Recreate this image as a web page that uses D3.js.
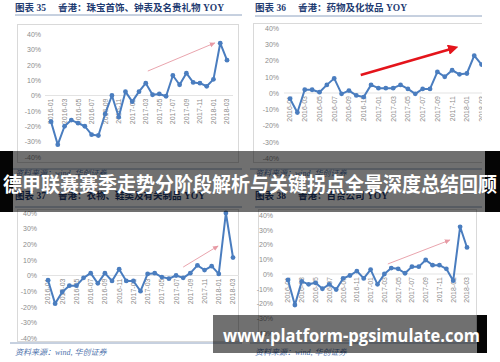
<!DOCTYPE html>
<html>
<head>
<meta charset="utf-8">
<script src="https://cdn.jsdelivr.net/npm/d3@7"></script>
<style>
  body { margin: 0; background: #fff; }
  svg { display: block; }
</style>
</head>
<body>
<div id="chart"></div>
<script>
////////////////////////////////////////////////////////////////////
/////  data                             /////
////////////////////////////////////////////////////////////////////

var months = ['2016-01','2016-02','2016-03','2016-04','2016-05','2016-06','2016-07','2016-08','2016-09',
              '2016-10','2016-11','2016-12','2017-01','2017-02','2017-03','2017-04','2017-05','2017-06',
              '2017-07','2017-08','2017-09','2017-10','2017-11','2017-12','2018-01','2018-02','2018-03']

var tickMonths = ['2016-01','2016-03','2016-05','2016-07','2016-09','2016-11','2017-01',
                  '2017-03','2017-05','2017-07','2017-09','2017-11','2018-01','2018-03']

var yTicks = [40, 30, 20, 10, 0, -10, -20, -30, -40]

// 图表35 珠宝首饰、钟表及名贵礼物
var jewelryYoy = [-17, -32, -20, -16, -18, -20, -25.5, -26, -12, 0, -14, 2.5, -4, 2.5, 8, 0.5, 1, -0.5,
                  13, 7, 14.5, 8.5, 8, 6, 10.5, 34, 23]
// 图表36 药物及化妆品
var pharmaYoy = [-3.5, -12, 2, 2, 0.5, 5, 9, -0.5, 1.5, -1.5, -2.5, 5, 3, 3, 3, 5, 2.5, -0.5,
                 2.5, 2.5, 13, 10, 14, 11.5, 12, 23, 17.5]
// 图表37 衣物、鞋类及有关制品
var clothingYoy = [-3, -18, -10.5, -6.5, -6.5, -1.5, 1.5, -5, 1.5, -3.5, 4, -3.5, -3.5, -10, 1, 1.5, -1, -2,
                   0, -1.5, 1.5, 6.5, 3.5, 6, 1, 40, 11.5]
// 图表38 百货公司
var deptStoreYoy = [-4, -21, -5, -7, -6, -10, -7, -10.5, -3, -1, 2, -3, 3, -7, 0, 4, 3.5, 0.5,
                    5, 5, 9.5, 6, 6, 3.5, -4.5, 32, 18]

// trend arrows: [month index, yoy %] start -> end
var jewelryArrow  = [[14.3, 15.9], [24.2, 34.2]]
var pharmaArrow   = [[9.6, 11.1], [22.3, 27.7]]
var clothingArrow = [[19.0, 5.4], [23.9, 18.9]]
var deptArrow     = [[14.5, 6.8], [23.5, 23]]

var chartNums   = ['图表 35', '图表 36', '图表 37', '图表 38']
var chartTitles = ['香港：珠宝首饰、钟表及名贵礼物 YOY', '香港：药物及化妆品 YOY',
                   '香港：衣物、鞋类及有关制品 YOY', '香港：百货公司 YOY']
var sourceText = '资料来源：wind, 华创证券'
var bannerText = '德甲联赛赛季走势分阶段解析与关键拐点全景深度总结回顾'
var siteText = 'www.platform-pgsimulate.com'

////////////////////////////////////////////////////////////////////

var W = 500, H = 362
var lineCol = '#4a7dbf'

var svg = d3.select('#chart').append('svg')
    .attr('width', W)
    .attr('height', H)

var defs = svg.append('defs')

// arrow heads
defs.append('marker')
    .attr('id', 'headPink')
    .attr('viewBox', '0 0 10 10')
    .attr('refX', 8).attr('refY', 5)
    .attr('markerWidth', 7).attr('markerHeight', 7)
    .attr('orient', 'auto')
  .append('path')
    .attr('d', 'M0,1 L9,5 L0,9 Z')
    .attr('fill', '#e79aa4')

defs.append('marker')
    .attr('id', 'headRed')
    .attr('viewBox', '0 0 10 10')
    .attr('refX', 6).attr('refY', 5)
    .attr('markerWidth', 4).attr('markerHeight', 4)
    .attr('orient', 'auto')
  .append('path')
    .attr('d', 'M0,0 L10,5 L0,10 Z')
    .attr('fill', '#e4141b')

defs.append('clipPath').attr('id', 'clip2')
  .append('rect')
    .attr('x', 250).attr('y', 0)
    .attr('width', 232).attr('height', 181)

// layout of each panel
var panels = [
  { vals: jewelryYoy, arrow: jewelryArrow, strong: false,
    tx: 15, ty: 11, gap: 43, ul: [15, 242, 15], box: [17, 24, 238, 162],
    lx: 41, xr: [51, 227], yr: [157, 34], foot: [169, 176, 15] },
  { vals: pharmaYoy, arrow: pharmaArrow, strong: true, clip: 'clip2',
    tx: 255, ty: 11, gap: 43, ul: [255, 482, 16], box: [253, 23, 490, 162],
    lx: 279, xr: [290, 481.6], yr: [158, 28], foot: [169, 176, 255] },
  { vals: clothingYoy, arrow: clothingArrow, strong: false,
    tx: 15, ty: 199, gap: 43, ul: [15, 242, 207], box: [17, 209, 238, 341],
    lx: 37, xr: [48, 233], yr: [338, 213], foot: [343, 355, 15] },
  { vals: deptStoreYoy, arrow: deptArrow, strong: false,
    tx: 255, ty: 199, gap: 43, ul: [255, 482, 207], box: [258, 209, 476, 340],
    lx: 273, xr: [288, 467], yr: [333, 215], foot: [343, 355, 255] }
]

panels.forEach(function(p, i) {

  var g = svg.append('g')

  // title
  g.append('text')
    .attr('x', p.tx).attr('y', p.ty)
    .attr('font-family', '"Liberation Serif", "Noto Sans CJK SC", serif')
    .attr('font-weight', 'bold')
    .attr('font-size', 9.5)
    .attr('fill', '#1f3c72')
    .text(chartNums[i])

  g.append('text')
    .attr('x', p.tx + p.gap).attr('y', p.ty)
    .attr('font-family', '"Liberation Serif", "Noto Sans CJK SC", serif')
    .attr('font-weight', 'bold')
    .attr('font-size', 9.5)
    .attr('fill', '#1f3c72')
    .text(chartTitles[i])

  // title underline
  g.append('line')
    .attr('x1', p.ul[0]).attr('x2', p.ul[1])
    .attr('y1', p.ul[2]).attr('y2', p.ul[2])
    .attr('stroke', '#8ea2c0')
    .attr('stroke-width', 1)

  var plot = g.append('g')
  if (p.clip) plot.attr('clip-path', 'url(#' + p.clip + ')')

  // frame
  plot.append('rect')
    .attr('x', p.box[0] + 0.5).attr('y', p.box[1] + 0.5)
    .attr('width', p.box[2] - p.box[0]).attr('height', p.box[3] - p.box[1])
    .attr('fill', 'none')
    .attr('stroke', '#d9d9d9')
    .attr('stroke-width', 1)

  var x = d3.scalePoint().domain(months).range(p.xr)
  var xi = d3.scaleLinear().domain([0, months.length - 1]).range(p.xr)
  var y = d3.scaleLinear().domain([-40, 40]).range(p.yr)

  // y axis labels
  var ya = plot.append('g')
    .attr('transform', 'translate(' + p.lx + ',0)')
    .call(d3.axisLeft(y).tickValues(yTicks).tickSize(0).tickPadding(0)
      .tickFormat(function(d) { return d + '%' }))
  ya.select('.domain').remove()
  ya.selectAll('text')
    .attr('font-family', '"Liberation Sans", Arial, sans-serif')
    .attr('font-size', 7)
    .attr('fill', '#8c8c8c')

  // zero line
  plot.append('line')
    .attr('x1', p.xr[0] - 6).attr('x2', p.xr[1] + 6)
    .attr('y1', y(0)).attr('y2', y(0))
    .attr('stroke', '#e3e3e3')
    .attr('stroke-width', 1)

  // x labels, rotated
  plot.selectAll('.xl')
    .data(tickMonths)
    .enter().append('text')
    .attr('transform', function(d) { return 'translate(' + x(d) + ',' + (y(0) + 3) + ') rotate(-90)' })
    .attr('text-anchor', 'end')
    .attr('dy', '0.35em')
    .attr('font-family', '"Liberation Sans", Arial, sans-serif')
    .attr('font-size', 7)
    .attr('fill', '#8c8c8c')
    .text(function(d) { return d })

  // series line
  var line = d3.line()
    .x(function(d, j) { return x(months[j]) })
    .y(function(d) { return y(d) })

  plot.append('path')
    .datum(p.vals)
    .attr('d', line)
    .attr('fill', 'none')
    .attr('stroke', lineCol)
    .attr('stroke-width', 2)
    .attr('stroke-linejoin', 'round')

  plot.selectAll('.pt')
    .data(p.vals)
    .enter().append('circle')
    .attr('cx', function(d, j) { return x(months[j]) })
    .attr('cy', function(d) { return y(d) })
    .attr('r', 2.4)
    .attr('fill', lineCol)

  // trend arrow
  plot.append('line')
    .attr('x1', xi(p.arrow[0][0])).attr('y1', y(p.arrow[0][1]))
    .attr('x2', xi(p.arrow[1][0])).attr('y2', y(p.arrow[1][1]))
    .attr('stroke', p.strong ? '#e4141b' : '#e79aa4')
    .attr('stroke-width', p.strong ? 2.6 : 0.9)
    .attr('marker-end', p.strong ? 'url(#headRed)' : 'url(#headPink)')

  // footer
  g.append('line')
    .attr('x1', p.foot[2] - 5).attr('x2', p.ul[1])
    .attr('y1', p.foot[0]).attr('y2', p.foot[0])
    .attr('stroke', '#8ea2c0')
    .attr('stroke-width', 1)

  g.append('text')
    .attr('x', p.foot[2]).attr('y', p.foot[1])
    .attr('font-family', '"Liberation Serif", "Noto Sans CJK SC", serif')
    .attr('font-style', 'italic')
    .attr('font-size', 8)
    .attr('fill', '#4f74ad')
    .text(sourceText)
})

////////////////////////////////////////////////////////////////////
/////  overlay banners                                         /////
////////////////////////////////////////////////////////////////////

svg.append('rect')
  .attr('x', 0).attr('y', 151).attr('width', W).attr('height', 61)
  .attr('fill', 'rgba(0,0,0,0.56)')
svg.append('rect')
  .attr('x', 0).attr('y', 151).attr('width', 13).attr('height', 61)
  .attr('fill', '#050505')
svg.append('rect')
  .attr('x', 485).attr('y', 151).attr('width', 15).attr('height', 61)
  .attr('fill', '#050505')
svg.append('text')
  .attr('x', 250).attr('y', 183)
  .attr('text-anchor', 'middle')
  .attr('dominant-baseline', 'central')
  .attr('font-family', '"Noto Sans CJK SC", sans-serif')
  .attr('font-weight', 'bold')
  .attr('font-size', 20.5)
  .attr('textLength', 494)
  .attr('lengthAdjust', 'spacingAndGlyphs')
  .attr('fill', '#fff')
  .text(bannerText)

svg.append('rect')
  .attr('x', 213).attr('y', 315).attr('width', 264).attr('height', 38)
  .attr('fill', 'rgba(0,0,0,0.56)')
svg.append('rect')
  .attr('x', 477).attr('y', 315).attr('width', 10).attr('height', 38)
  .attr('fill', '#050505')
svg.append('text')
  .attr('x', 351.5).attr('y', 335)
  .attr('text-anchor', 'middle')
  .attr('dominant-baseline', 'central')
  .attr('font-family', '"Open Sans", "Noto Sans", sans-serif')
  .attr('font-weight', 'bold')
  .attr('font-size', 18)
  .attr('textLength', 257)
  .attr('lengthAdjust', 'spacingAndGlyphs')
  .attr('fill', '#fff')
  .text(siteText)
</script>
</body>
</html>
